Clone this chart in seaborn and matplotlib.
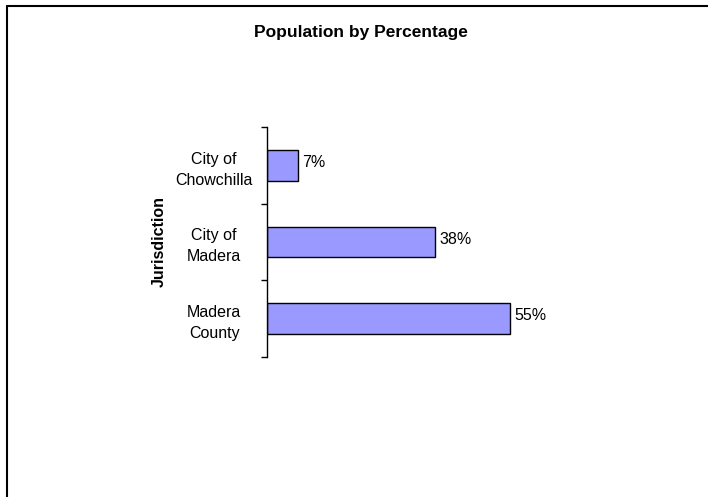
import matplotlib
matplotlib.use('Agg')
import matplotlib.pyplot as plt
import seaborn as sns
import pandas as pd
from matplotlib.lines import Line2D

jurisdictions = ['City of\nChowchilla', 'City of\nMadera', 'Madera\nCounty']
percentages = [7, 38, 55]

df = pd.DataFrame({'Jurisdiction': jurisdictions, 'Percent': percentages})

sns.set_style('white')
plt.rcParams['font.family'] = ['Liberation Sans', 'DejaVu Sans']
plt.rcParams['text.color'] = 'black'
plt.rcParams['axes.labelcolor'] = 'black'
plt.rcParams['ytick.color'] = 'black'

fig = plt.figure(figsize=(7.08, 4.97), dpi=100)
ax = fig.add_axes([0.377, 0.282, 0.375, 0.4625])

sns.barplot(data=df, x='Percent', y='Jurisdiction', color='#9999FF',
            edgecolor='black', linewidth=1, width=0.4, saturation=1, ax=ax)

for i, v in enumerate(percentages):
    ax.annotate(f'{v}%', xy=(v, i), xytext=(3, 2), textcoords='offset points',
                ha='left', va='center', fontsize=11.5)

ax.set_xlim(0, 60)
ax.set_ylim(2.5, -0.5)
ax.set_xticks([])
ax.set_yticks([-0.5, 0.5, 1.5, 2.5], minor=False)
ax.set_yticklabels([])
ax.set_yticks([0, 1, 2], minor=True)
ax.set_yticklabels(jurisdictions, minor=True, fontsize=11.5, ha='center',
                   multialignment='center', linespacing=1.5)
ax.tick_params(axis='y', which='major', direction='out', length=4, width=1, color='black', left=True)
ax.tick_params(axis='y', which='minor', length=0, pad=38)
ax.set_xlabel('')
ax.set_ylabel('Jurisdiction', fontsize=11.5, fontweight='bold')
ax.yaxis.set_label_coords(-0.377, 0.5)

for side in ['top', 'right', 'bottom']:
    ax.spines[side].set_visible(False)
ax.spines['left'].set_color('black')
ax.spines['left'].set_linewidth(1)

fig.text(361/708, 1 - 32/497, 'Population by Percentage', ha='center', va='center',
         fontsize=12.5, fontweight='bold')

# chart frame (top and left edges visible)
fig.add_artist(Line2D([7/708, 1], [1 - 6/497, 1 - 6/497], color='black', lw=1.5, transform=fig.transFigure))
fig.add_artist(Line2D([7/708, 7/708], [0, 1 - 6/497], color='black', lw=1.5, transform=fig.transFigure))

fig.savefig('out.png', dpi=100)
